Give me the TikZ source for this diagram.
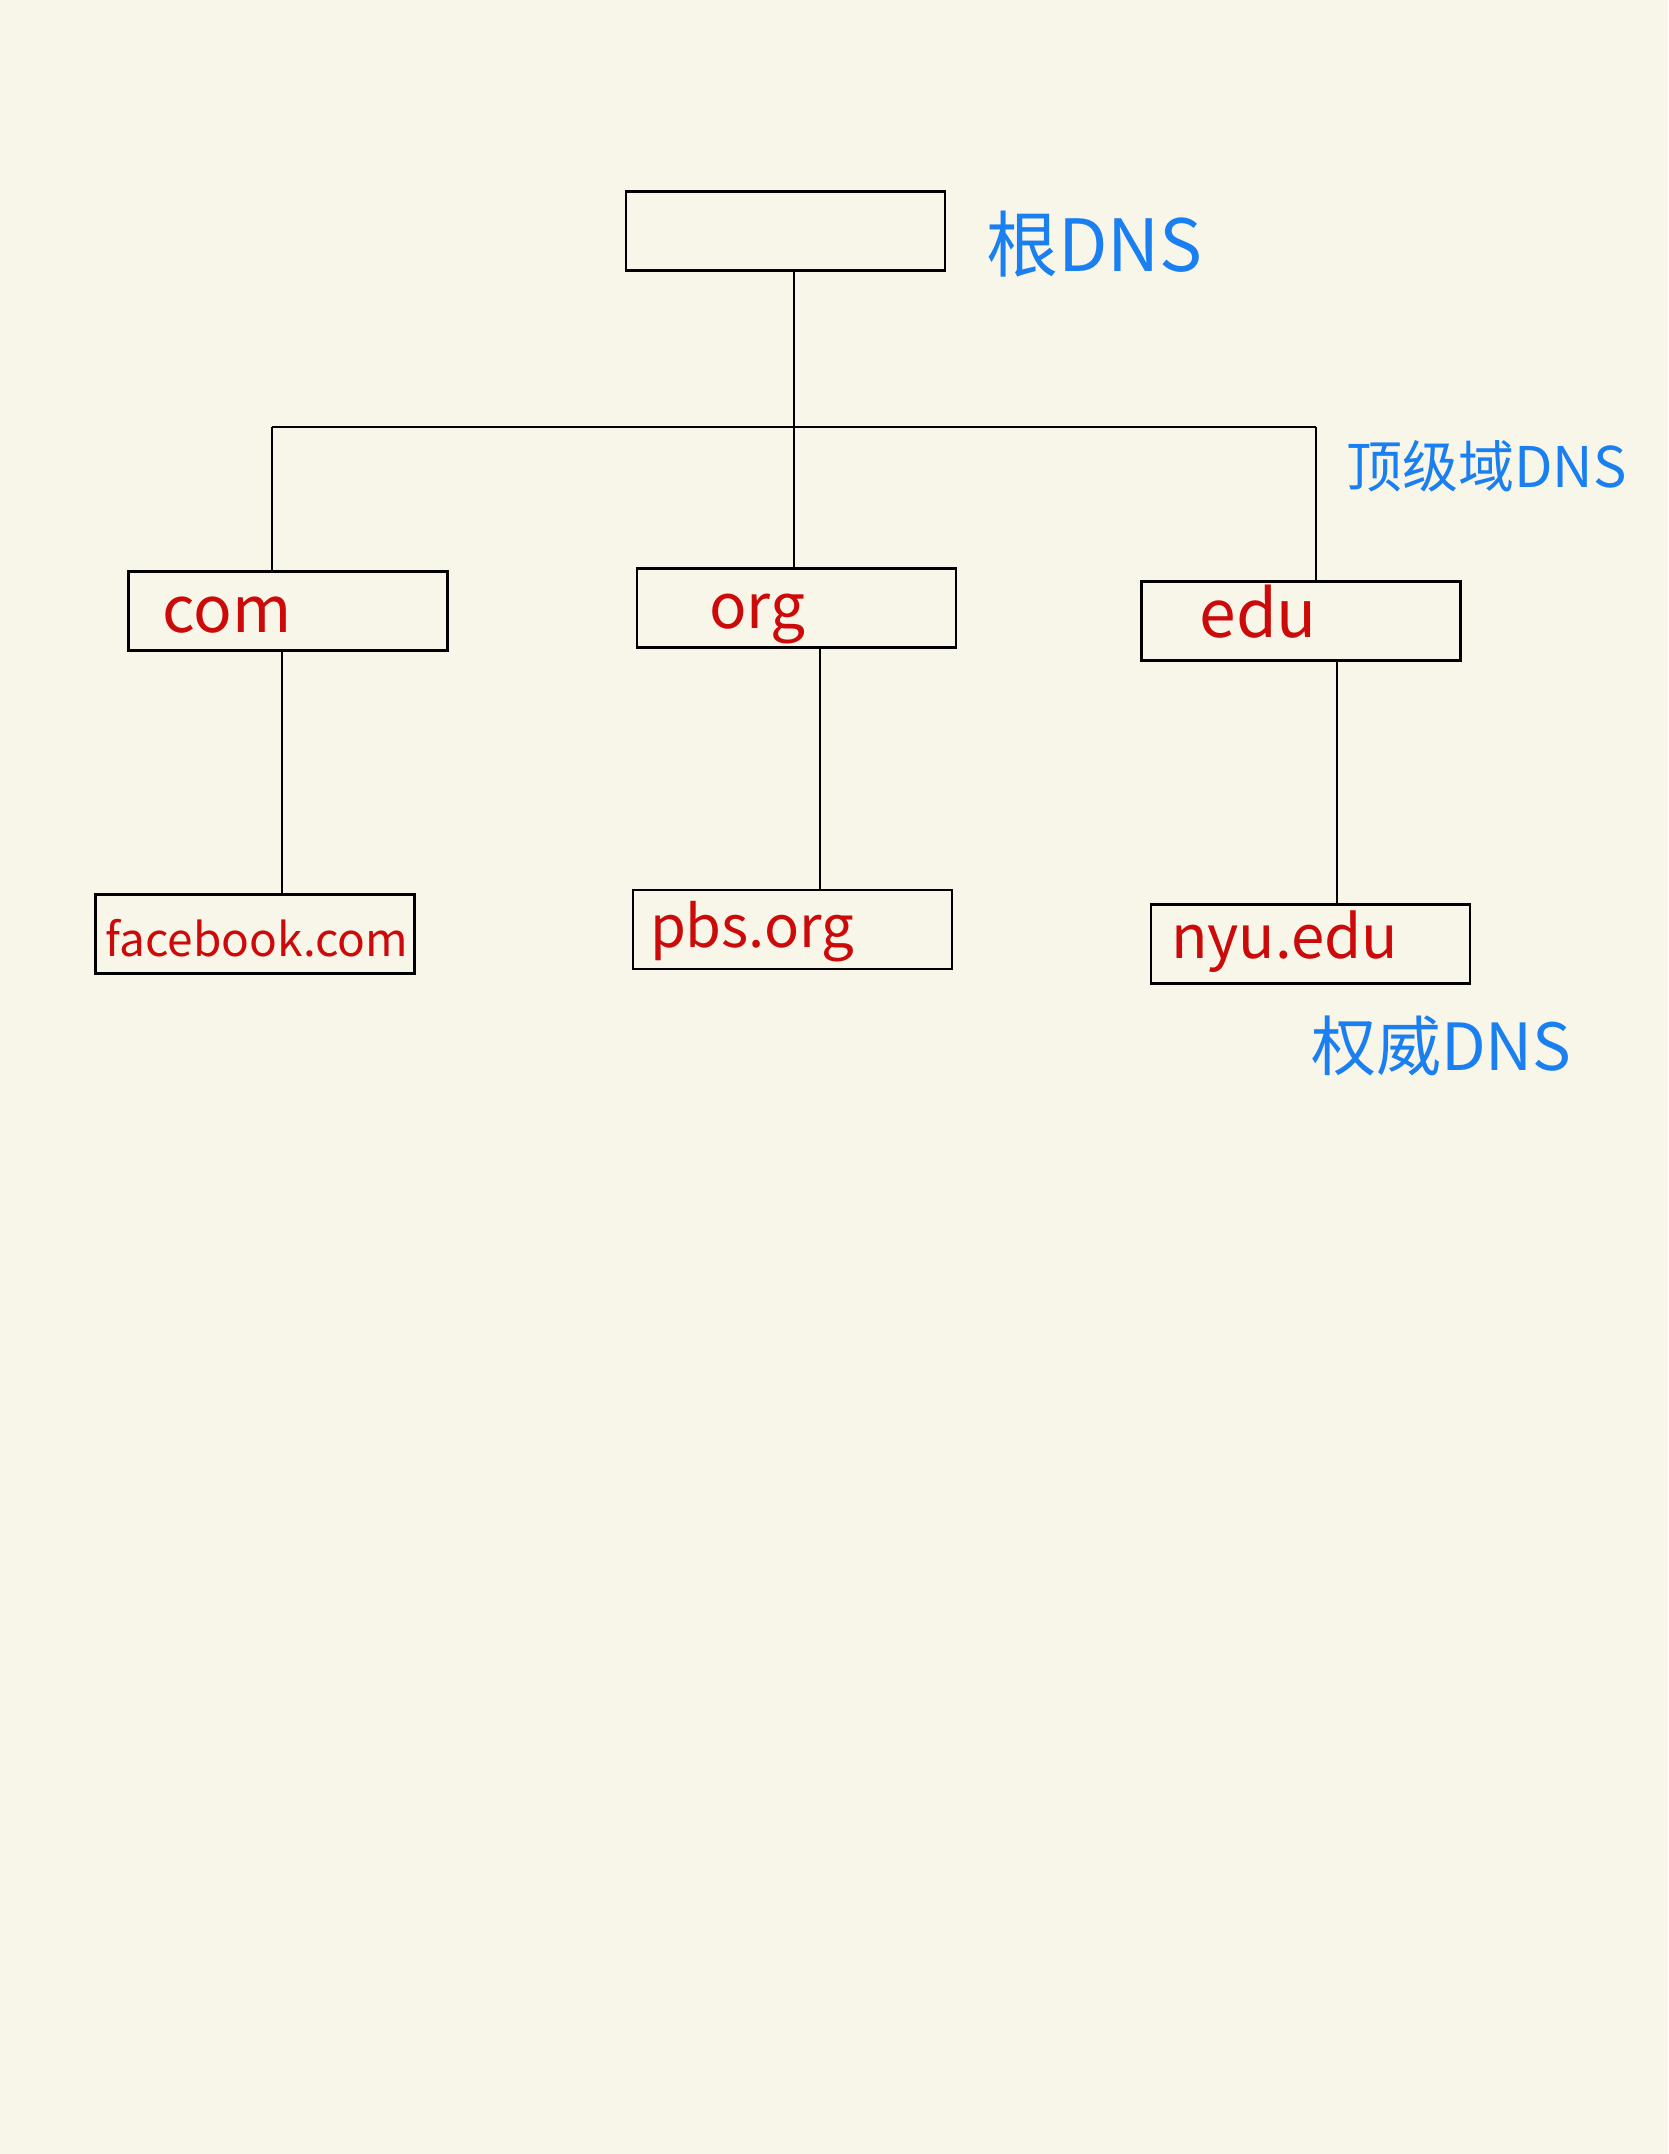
\documentclass[tikz,border=0pt]{standalone}
\usepackage{fontspec}
\setmainfont{Noto Sans}
\newfontfamily\cjk{Noto Sans CJK SC}
\definecolor{paper}{HTML}{F8F5E9}
\definecolor{ink}{HTML}{CC0A0A}
\definecolor{note}{HTML}{1A7FF0}
\newcommand{\boxtext}[4]{\hspace*{#1pt}\raisebox{-#2pt}{\fontsize{#3}{#3}\selectfont #4}}
\begin{document}
\begin{tikzpicture}[x=1pt,y=-1pt,
  dnsbox/.style={draw=black,line width=2.6pt,minimum width=319pt,minimum height=79pt,
    inner xsep=0pt,inner ysep=0pt,text width=319pt,text height=20pt,text depth=20pt,
    align=left,text=ink,font=\cjk},
  link/.style={draw=black,line width=2.2pt},
  notelabel/.style={text=note,anchor=west,inner sep=0pt}]
\fill[paper] (0,0) rectangle (1668,2154);
\useasboundingbox (0,0) rectangle (1668,2154);

\node[dnsbox] (root) at (785.5,231) {};
\node[dnsbox] (com) at (288,611) {\boxtext{34}{21}{64}{com}};
\node[dnsbox] (org) at (796.5,608) {\boxtext{72}{20}{62}{org}};
\node[dnsbox] (edu) at (1301,621) {\boxtext{58}{16}{66}{edu}};
\node[dnsbox] (fb) at (255,934) {\boxtext{10}{22}{46}{facebook.com}};
\node[dnsbox] (pbs) at (792.5,929.5) {\boxtext{17}{18}{58}{pbs.org}};
\node[dnsbox] (nyu) at (1310.5,944) {\boxtext{20}{14}{60}{nyu.edu}};

\coordinate (j) at (794,427);
\coordinate (hl) at (272,427);
\coordinate (hr) at (1316,427);
\coordinate (c1) at (282,0);
\coordinate (c2) at (820,0);
\coordinate (c3) at (1337,0);

\draw[link] (root.south -| j) -- (j);
\draw[link] (hl) -- (hr);
\draw[link] (hl) -- (com.north -| hl);
\draw[link] (j) -- (org.north -| j);
\draw[link] (hr) -- (edu.north -| hr);
\draw[link] (com.south -| c1) -- (fb.north -| c1);
\draw[link] (org.south -| c2) -- (pbs.north -| c2);
\draw[link] (edu.south -| c3) -- (nyu.north -| c3);

\node[notelabel,font=\cjk\fontsize{72}{76}\selectfont] (lroot) at (986,244) {根DNS};
\node[notelabel,font=\cjk\fontsize{56}{60}\selectfont] (ltld) at (1346,466) {顶级域DNS};
\node[notelabel,font=\cjk\fontsize{65}{70}\selectfont] (lauth) at (1311,1046) {权威DNS};
\end{tikzpicture}
\end{document}
